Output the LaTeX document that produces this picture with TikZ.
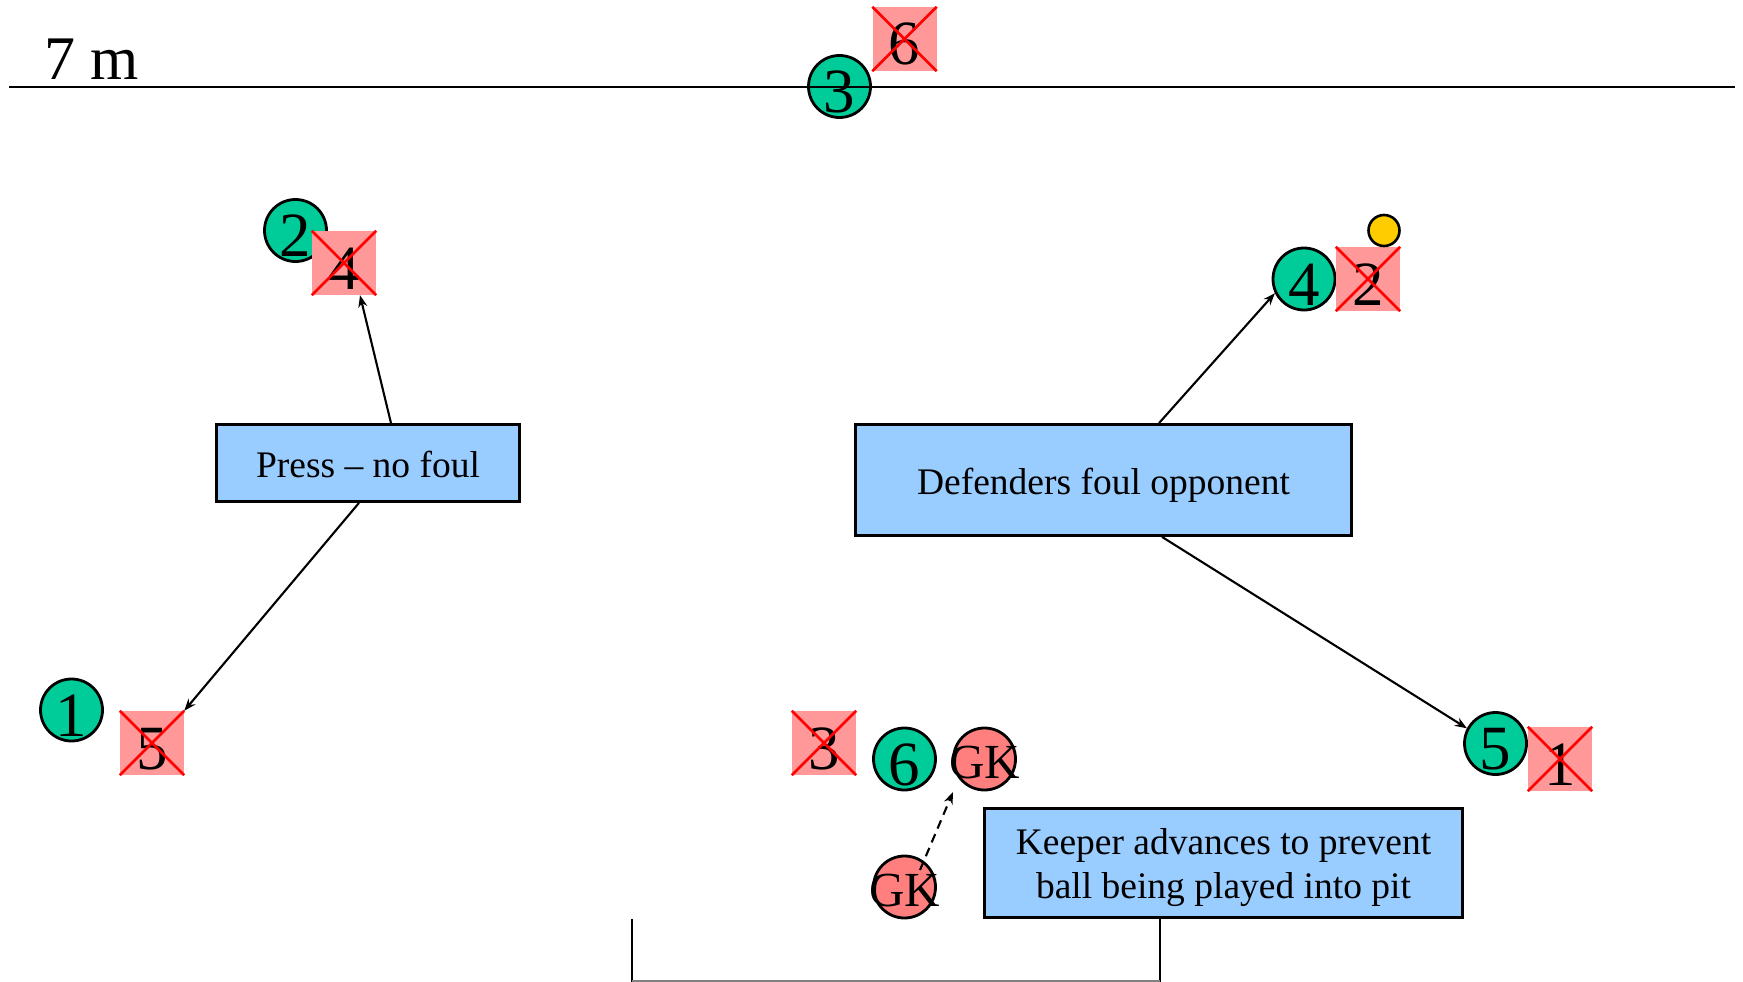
\documentclass[tikz,border=0pt]{standalone}
\usepackage{fontspec}
\setmainfont{Liberation Serif}
\usetikzlibrary{arrows.meta,calc}

\definecolor{player}{HTML}{00CC99}
\definecolor{markbox}{HTML}{FF9999}
\definecolor{keeperfill}{HTML}{FF7F7F}
\definecolor{ballfill}{HTML}{FFCC00}
\definecolor{notefill}{HTML}{99CCFF}

\tikzset{
  attacker/.style={circle, draw=black, line width=2.8pt, fill=player,
    minimum size=62pt, inner sep=0pt,
    font=\fontsize{63}{63}\selectfont, text height=52pt, text depth=0pt},
  marker/.style={rectangle, fill=markbox, minimum size=64pt, inner sep=0pt,
    font=\fontsize{63}{63}\selectfont, text height=52pt, text depth=0pt},
  crossline/.style={red, line width=2.6pt},
  goalie/.style={circle, draw=black, line width=2.8pt, fill=keeperfill,
    minimum size=62pt, inner sep=0pt,
    font=\fontsize{49}{49}\selectfont, text height=39pt, text depth=0pt},
  ballnode/.style={circle, draw=black, line width=2.6pt, fill=ballfill,
    minimum size=31pt, inner sep=0pt},
  notebase/.style={rectangle, draw=black, line width=2.8pt, fill=notefill,
    inner sep=0pt},
  notetext/.style={inner sep=0pt, font=\fontsize{37.5}{44}\selectfont},
  note/.style={notebase, notetext, text height=30pt, text depth=2pt},
  conn/.style={line width=2.1pt, -{Stealth[length=12pt,width=9pt]}},
  fieldline/.style={line width=2.8pt}
}

\begin{document}
\begin{tikzpicture}[x=1pt,y=-1pt]
  \useasboundingbox (0,0) rectangle (1743,982);

  % player on the 7 m line sits under the line
  \node[attacker] (c3) at (839.5,86.5) {3};
  \draw[fieldline] (9,87) -- (1735,87);
  \node[anchor=base west, inner sep=0pt, font=\fontsize{62}{62}\selectfont] (sevenm) at (44,80) {7 m};
  \node[marker] (x6) at (904.5,39) {6};

  % left pair
  \node[attacker] (c2) at (295.5,230.5) {2};
  \node[marker] (x4) at (344,263) {4};

  % right pair with ball
  \node[attacker] (c4) at (1304,279) {4};
  \node[marker] (x2) at (1368,279) {2};
  \node[ballnode] (ball) at (1384,230.5) {};

  % wing left
  \node[attacker] (c1) at (71.5,710) {1};
  \node[marker] (x5) at (152,743) {5};

  % centre near the goal
  \node[marker] (x3) at (824,743) {3};
  \node[attacker] (c6) at (904.5,759) {6};
  \node[goalie] (gka) at (984.5,759) {\makebox[0pt]{GK}};
  \node[goalie] (gkb) at (904.5,887) {\makebox[0pt]{GK}};

  % wing right
  \node[attacker] (c5) at (1495.5,743.5) {5};
  \node[marker] (x1) at (1560,759) {1};

  % crosses on the marked defenders
  \foreach \n in {x6,x4,x2,x5,x3,x1}
    \draw[crossline] (\n.north west) -- (\n.south east)
                     (\n.north east) -- (\n.south west);

  % notes
  \node[note, minimum width=303pt, minimum height=77pt] (press) at (368,463) {Press -- no foul};
  \node[note, minimum width=496pt, minimum height=111pt] (defend) at (1103.5,480) {Defenders foul opponent};
  \node[notebase, minimum width=478pt, minimum height=109pt] (keeper) at (1223.5,863) {};
  \node[notetext, align=center, yshift=-5pt] (keepertext) at (keeper.center)
    {Keeper advances to prevent\\ball being played into pit};

  % connectors
  \draw[conn] ($(press.north)+(23,0)$) -- ($(x4.south)+(16,0)$);
  \draw[conn] ($(press.south)+(-9,0)$) -- (x5.north east);
  \draw[conn] ($(defend.north)+(55.5,0)$) -- (c4.206);
  \draw[conn] ($(defend.south)+(58.5,0)$) -- (c5.152);
  \draw[conn, dash pattern=on 9pt off 6pt] ($(gkb)+(15.5,-17)$) -- ($(gka)+(-31.5,33)$);

  % goal (pit)
  \draw[fieldline] (632,919) -- (632,982);
  \draw[fieldline] (1160,919) -- (1160,982);
  \draw[gray, line width=1.5pt] (632,981) -- (1160,981);
\end{tikzpicture}
\end{document}
